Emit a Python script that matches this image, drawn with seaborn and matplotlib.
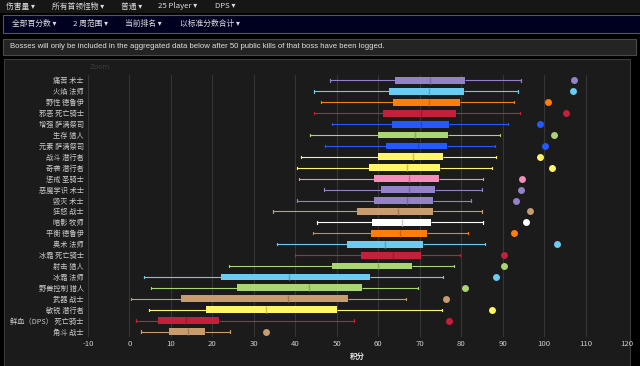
import numpy as np
import pandas as pd
import matplotlib
matplotlib.use("Agg")
import matplotlib.pyplot as plt
from matplotlib.patches import Rectangle
import matplotlib.colors as mcolors
import seaborn as sns

names = ["痛苦 术士", "火焰 法师", "野性 德鲁伊", "邪恶 死亡骑士", "增强 萨满祭司", "生存 猎人",
         "元素 萨满祭司", "战斗 潜行者", "奇袭 潜行者", "惩戒 圣骑士", "恶魔学识 术士", "毁灭 术士",
         "狂怒 战士", "暗影 牧师", "平衡 德鲁伊", "奥术 法师", "冰霜 死亡骑士", "射击 猎人",
         "冰霜 法师", "野兽控制 猎人", "武器 战士", "敏锐 潜行者", "鲜血（DPS） 死亡骑士", "角斗 战士"]
lo = [48.3, 44.6, 46.2, 44.4, 48.8, 43.5, 47.2, 41.3, 40.5, 40.8, 46.9, 40.4,
      34.7, 45.3, 44.3, 35.5, 40.0, 24.1, 3.6, 5.1, 0.3, 4.8, 1.6, 2.8]
q1 = [64.0, 62.7, 63.6, 61.1, 63.4, 60.0, 61.8, 59.9, 57.8, 58.9, 60.6, 59.0,
      54.9, 58.5, 58.2, 52.5, 55.9, 48.9, 22.1, 25.9, 12.5, 18.5, 6.8, 9.5]
med = [72.5, 72.2, 72.3, 70.4, 70.2, 68.9, 69.7, 68.5, 66.9, 67.5, 67.5, 66.9,
       64.7, 65.7, 65.3, 61.7, 63.6, 60.0, 38.4, 43.3, 38.3, 33.0, 13.6, 14.1]
q3 = [80.9, 80.8, 79.7, 78.8, 77.0, 76.8, 76.7, 75.7, 74.9, 74.6, 73.8, 73.2,
      73.1, 72.7, 71.7, 70.9, 70.2, 68.1, 58.1, 56.2, 52.6, 50.1, 21.5, 18.3]
hi = [94.5, 93.7, 92.7, 94.1, 91.3, 89.4, 88.2, 88.4, 87.5, 85.3, 85.0, 82.4,
      85.0, 85.2, 81.7, 85.8, 79.8, 78.3, 75.7, 69.6, 66.7, 75.3, 54.1, 24.3]
top = [107.3, 106.9, 101.0, 105.2, 99.0, 102.3, 100.3, 99.1, 101.8, 94.7, 94.4, 93.3,
       96.6, 95.6, 92.7, 103.2, 90.4, 90.4, 88.5, 81.0, 76.4, 87.5, 77.0, 32.9]
classes = ["warlock", "mage", "druid", "dk", "shaman", "hunter", "shaman", "rogue", "rogue",
           "paladin", "warlock", "warlock", "warrior", "priest", "druid", "mage", "dk", "hunter",
           "mage", "hunter", "warrior", "rogue", "dk", "warrior"]
class_colors = {"warlock": "#9482C9", "mage": "#69CCF0", "druid": "#FF7D0A", "dk": "#C41F3B",
                "shaman": "#2459FF", "hunter": "#ABD473", "rogue": "#FFF569", "paladin": "#F58CBA",
                "warrior": "#C79C6E", "priest": "#FFFFFF"}
xticks = list(range(-10, 121, 10))

rows = []
for i, n in enumerate(names):
    for v in (lo[i], q1[i], med[i], q3[i], hi[i]):
        rows.append({"name": n, "score": v})
df = pd.DataFrame(rows)
top_df = pd.DataFrame({"name": names, "score": top})

sns.set_theme(style="dark")
plt.rcParams["font.family"] = ["Noto Sans CJK SC", "DejaVu Sans"]

fig = plt.figure(figsize=(6.4, 3.66), dpi=100)
fig.patch.set_facecolor("#000000")

def fx(px):
    return px / 640

def fy(py):
    return 1 - py / 366

# nav row 1
fig.patches.append(Rectangle((0, fy(13)), 1, 13 / 366, transform=fig.transFigure,
                             facecolor="#161616", edgecolor="none", zorder=-5))
for x, t in [(6, "伤害量 ▾"), (52, "所有首领怪物 ▾"), (121, "普通 ▾"), (158, "25 Player ▾"), (215, "DPS ▾")]:
    fig.text(fx(x), fy(6.5), t, color="#dddddd", fontsize=5.6, va="center", ha="left")
# nav row 2
fig.patches.append(Rectangle((fx(3), fy(33)), 1, 18.5 / 366, transform=fig.transFigure,
                             facecolor="#000020", edgecolor="#555566", linewidth=0.8, zorder=-5))
for x, t in [(12, "全部百分数 ▾"), (73, "2 周范围 ▾"), (125, "当前排名 ▾"), (180, "以标准分数合计 ▾")]:
    fig.text(fx(x), fy(24), t, color="#dddddd", fontsize=5.6, va="center", ha="left")
# notice box
fig.patches.append(Rectangle((fx(3), fy(54.5)), fx(633), 15.5 / 366, transform=fig.transFigure,
                             facecolor="#242424", edgecolor="#4a4a4a", linewidth=0.8, zorder=-5))
fig.text(fx(10), fy(46.5), "Bosses will only be included in the aggregated data below after 50 public kills "
         "of that boss have been logged.", color="#e0e0e0", fontsize=5.6, va="center", ha="left",
         family=["Liberation Sans", "DejaVu Sans"])
# chart panel
fig.patches.append(Rectangle((fx(3.5), -0.01), fx(626.5), fy(59) + 0.01, transform=fig.transFigure,
                             facecolor="#1b1b1b", edgecolor="#3a3a3a", linewidth=0.8, zorder=-5))
fig.text(fx(100), fy(67), "Zoom", color="#3c3c3c", fontsize=5, va="center", ha="center",
         family=["DejaVu Sans"])

ax = fig.add_axes([fx(88), fy(337), fx(627 - 88), (337 - 75) / 366])
ax.set_facecolor("#1b1b1b")

for i, n in enumerate(names):
    c = class_colors[classes[i]]
    dark = tuple(np.array(mcolors.to_rgb(c)) * 0.8)
    sub = df[df["name"] == n]
    sns.boxplot(data=sub, x="score", y="name", order=names, color=c, linecolor=c,
                whis=np.inf, width=0.62, linewidth=0.8, ax=ax,
                boxprops=dict(edgecolor="none", facecolor=c),
                medianprops=dict(color=dark, linewidth=1.0),
                whiskerprops=dict(color=c, linewidth=0.8),
                capprops=dict(color=c, linewidth=0.9),
                capwidths=0.22)
    sns.stripplot(data=top_df[top_df["name"] == n], x="score", y="name", order=names,
                  color=c, jitter=False, size=5, linewidth=0, ax=ax, zorder=5)

ax.set_xlim(-10, 120)
ax.set_ylim(23.5, -0.5)
ax.set_xticks(xticks)
ax.set_xticklabels([str(t) for t in xticks])
ax.grid(axis="x", color="#353535", linewidth=0.8)
ax.grid(axis="y", visible=False)
ax.set_axisbelow(True)
for s in ax.spines.values():
    s.set_visible(False)
ax.tick_params(axis="both", length=0, colors="#cccccc")
ax.tick_params(axis="y", pad=3, labelsize=5.2)
ax.tick_params(axis="x", pad=2.5, labelsize=5.6)
ax.set_ylabel("")
ax.set_xlabel("积分", color="#e8e8e8", fontsize=5.4, fontweight="bold", labelpad=3)

fig.savefig("out.png", dpi=100, facecolor=fig.get_facecolor())
